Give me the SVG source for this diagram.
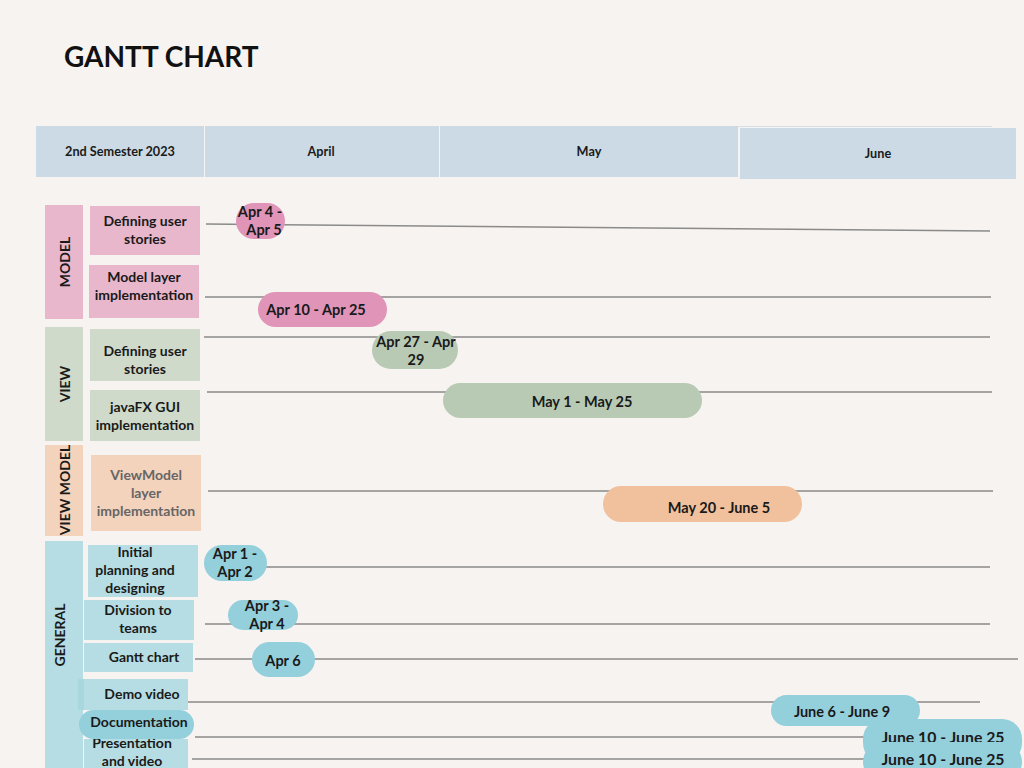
<svg xmlns="http://www.w3.org/2000/svg" width="1024" height="768" viewBox="0 0 1024 768">
<style>
text{font-family:Lato,"Noto Sans","Liberation Sans",sans-serif;font-weight:700;fill:#1a1a1a;text-anchor:middle}
.hd{fill:#cbdae5}
.h{font-size:12.7px}
.c{font-size:14px}
.t{font-size:14px}
.b{font-size:14.5px}
.ln{stroke:#8a8a8a;stroke-width:1.4;fill:none}
.pk{fill:#e8b7cc}.gr{fill:#d0dacb}.or{fill:#f4d3bd}.bl{fill:#b5dde3}
.pkb{fill:#df94b8}.grb{fill:#b8cab4}.orb{fill:#f0c19c}.blb{fill:#94cfdc}
</style>
<rect width="1024" height="768" fill="#f7f3f0"/>
<text x="64" y="67" style="font-size:28px;text-anchor:start;fill:#111">GANTT CHART</text>

<g id="header">
<line x1="738" y1="126.5" x2="992" y2="126.5" stroke="#d5dfe8" stroke-width="1"/>
<rect class="hd" x="36" y="126" width="168" height="51"/>
<rect class="hd" x="205" y="126" width="234" height="51"/>
<rect class="hd" x="440" y="126" width="298" height="51"/>
<rect class="hd" x="740" y="128" width="276" height="51"/>
<text class="h" x="120" y="156">2nd Semester 2023</text>
<text class="h" x="321" y="156">April</text>
<text class="h" x="589" y="156">May</text>
<text class="h" x="878" y="158">June</text>
</g>

<g id="connectors">
<line class="ln" x1="206" y1="224" x2="990" y2="231"/>
<line class="ln" x1="205" y1="297" x2="991" y2="297"/>
<line class="ln" x1="204" y1="337" x2="990" y2="337"/>
<line class="ln" x1="207" y1="392" x2="992" y2="392"/>
<line class="ln" x1="208" y1="491" x2="993" y2="491"/>
<line class="ln" x1="207" y1="567" x2="990" y2="567"/>
<line class="ln" x1="205" y1="624" x2="990" y2="624"/>
<line class="ln" x1="195" y1="659" x2="1018" y2="659"/>
<line class="ln" x1="188" y1="702" x2="980" y2="702"/>
<line class="ln" x1="195" y1="737" x2="990" y2="737"/>
<line class="ln" x1="192" y1="759" x2="990" y2="759"/>
</g>

<g id="cat-model">
<rect class="pk" x="45" y="205" width="38" height="114"/>
<text class="c" transform="translate(70,262) rotate(-90)">MODEL</text>
</g>
<g id="task-model-stories">
<rect class="pk" x="90" y="206" width="110" height="49"/>
<text class="t" x="145" y="226">Defining user</text>
<text class="t" x="145" y="244">stories</text>
</g>
<g id="task-model-impl">
<rect class="pk" x="89" y="265" width="110" height="53"/>
<text class="t" x="144" y="282">Model layer</text>
<text class="t" x="144" y="300">implementation</text>
</g>

<g id="cat-view">
<rect class="gr" x="45" y="327" width="38" height="114"/>
<text class="c" transform="translate(70,384) rotate(-90)">VIEW</text>
</g>
<g id="task-view-stories">
<rect class="gr" x="90" y="329" width="110" height="52"/>
<text class="t" x="145" y="356">Defining user</text>
<text class="t" x="145" y="374">stories</text>
</g>
<g id="task-view-gui">
<rect class="gr" x="90" y="390" width="110" height="51"/>
<text class="t" x="145" y="412">javaFX GUI</text>
<text class="t" x="145" y="430">implementation</text>
</g>

<g id="cat-viewmodel">
<rect class="or" x="45" y="445" width="38" height="91"/>
<text class="c" transform="translate(70,490) rotate(-90)">VIEW MODEL</text>
</g>
<g id="task-viewmodel">
<rect class="or" x="91" y="455" width="110" height="76"/>
<text class="t" x="146" y="480" style="fill:#666">ViewModel</text>
<text class="t" x="146" y="498" style="fill:#666">layer</text>
<text class="t" x="146" y="516" style="fill:#666">implementation</text>
</g>

<g id="cat-general">
<rect class="bl" x="45" y="541" width="38" height="227"/>
<text class="c" transform="translate(65,635) rotate(-90)">GENERAL</text>
</g>
<g id="task-initial">
<rect class="bl" x="88" y="545" width="110" height="52"/>
<text class="t" x="135" y="557">Initial</text>
<text class="t" x="135" y="575">planning and</text>
<text class="t" x="135" y="593">designing</text>
</g>
<g id="task-division">
<rect class="bl" x="84" y="600" width="110" height="40"/>
<text class="t" x="138" y="615">Division to</text>
<text class="t" x="138" y="633">teams</text>
</g>
<g id="task-gantt">
<rect class="bl" x="84" y="643" width="109" height="29"/>
<text class="t" x="144" y="662">Gantt chart</text>
</g>
<g id="task-demo">
<rect x="78" y="679" width="110" height="31" fill="#a9d7de"/>
<rect class="bl" x="84" y="679" width="104" height="31"/>
<text class="t" x="142" y="699">Demo video</text>
</g>
<g id="task-presentation">
<rect class="bl" x="84" y="739" width="104" height="29"/>
<text class="t" x="132" y="748">Presentation</text>
<text class="t" x="132" y="766">and video</text>
</g>
<g id="task-documentation">
<rect class="blb" x="79" y="710" width="115" height="29" rx="14.5"/>
<text class="t" x="139" y="727">Documentation</text>
</g>

<g id="bar-apr4">
<rect class="pkb" x="236" y="203" width="49" height="36" rx="18"/>
<text class="b" x="260" y="217">Apr 4 -</text>
<text class="b" x="264" y="235">Apr 5</text>
</g>
<g id="bar-apr10">
<rect class="pkb" x="258" y="292" width="129" height="35" rx="17.5"/>
<text class="b" x="316" y="315">Apr 10 - Apr 25</text>
</g>
<g id="bar-apr27">
<rect class="grb" x="372" y="331" width="86" height="38" rx="19"/>
<text class="b" x="416" y="347">Apr 27 - Apr</text>
<text class="b" x="416" y="365">29</text>
</g>
<g id="bar-may1">
<rect class="grb" x="443" y="383" width="259" height="35" rx="17.5"/>
<text class="b" x="582" y="407">May 1 - May 25</text>
</g>
<g id="bar-may20">
<rect class="orb" x="603" y="486" width="199" height="36" rx="18"/>
<text class="b" x="719" y="513">May 20 - June 5</text>
</g>
<g id="bar-apr1">
<rect class="blb" x="204" y="545" width="63" height="36" rx="18"/>
<text class="b" x="235" y="559">Apr 1 -</text>
<text class="b" x="235" y="577">Apr 2</text>
</g>
<g id="bar-apr3">
<rect class="blb" x="228" y="600" width="70" height="30" rx="15"/>
<text class="b" x="267" y="611">Apr 3 -</text>
<text class="b" x="267" y="629">Apr 4</text>
</g>
<g id="bar-apr6">
<rect class="blb" x="252" y="642" width="63" height="35" rx="17.5"/>
<text class="b" x="283" y="666">Apr 6</text>
</g>
<g id="bar-june6">
<rect class="blb" x="771" y="695" width="149" height="31" rx="15.5"/>
<text class="b" x="842" y="717">June 6 - June 9</text>
</g>
<g id="bar-june10-a">
<rect class="blb" x="863" y="719" width="159" height="44" rx="20"/>
<text class="b" x="943" y="743" style="font-size:15.8px">June 10 - June 25</text>
</g>
<g id="bar-june10-b">
<rect class="blb" x="863" y="742" width="159" height="40" rx="20"/>
<text class="b" x="943" y="765" style="font-size:15.8px">June 10 - June 25</text>
</g>
</svg>
